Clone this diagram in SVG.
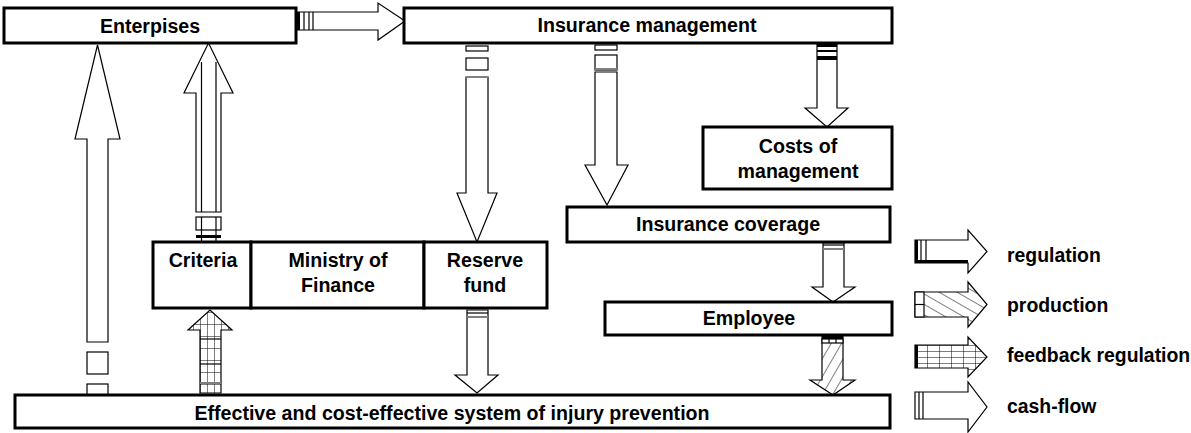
<svg xmlns="http://www.w3.org/2000/svg" width="1191" height="433" viewBox="0 0 1191 433">
<style>
.box{fill:#fff;stroke:#000;stroke-width:3}
.t{font-family:"Liberation Sans",Arial,sans-serif;font-size:19.6px;font-weight:bold;fill:#000;text-anchor:middle}
.lt{font-family:"Liberation Sans",Arial,sans-serif;font-size:19.4px;font-weight:bold;fill:#000}
.ar{fill:#fff;stroke:#000;stroke-width:1.2;stroke-linejoin:miter}
.ln{stroke:#000;stroke-width:1.2;fill:none}
.gl{stroke:#808080;stroke-width:2;fill:none}
.blk{fill:#000}
</style>
<defs>
<pattern id="hatch" patternUnits="userSpaceOnUse" width="9" height="9" patternTransform="rotate(30)">
<rect width="9" height="9" fill="#fff"/>
<line x1="0" y1="0" x2="0" y2="9" stroke="#000" stroke-width="1"/>
</pattern>
<pattern id="hatchL" patternUnits="userSpaceOnUse" width="9" height="9" patternTransform="rotate(-60)">
<rect width="9" height="9" fill="#fff"/>
<line x1="0" y1="0" x2="0" y2="9" stroke="#000" stroke-width="1"/>
</pattern>
<pattern id="grid" patternUnits="userSpaceOnUse" x="200" y="0" width="7" height="12">
<rect width="7" height="12" fill="#fff"/>
<path d="M0 0V12M0 0H7" stroke="#000" stroke-width="1" fill="none"/>
</pattern>
<pattern id="gridL" patternUnits="userSpaceOnUse" x="915" y="345" width="12" height="6">
<rect width="12" height="6" fill="#fff"/>
<path d="M0 0V6M0 0H12" stroke="#000" stroke-width="1" fill="none"/>
</pattern>
</defs>

<g id="connectors">
<g id="c-ent-ins">
<polygon class="ar" points="296,12 378,12 378,3 405,21 378,40 378,30 296,30"/>
<rect class="blk" x="297" y="12" width="3" height="18"/>
<line class="ln" x1="304" y1="12" x2="304" y2="30"/>
<line class="ln" x1="309" y1="12" x2="309" y2="30"/>
<line class="ln" x1="313" y1="12" x2="313" y2="30"/>
</g>
<g id="c-bot-ent">
<polygon class="ar" points="87,342 87,139 75,139 97.5,45 120,139 108,139 108,342"/>
<rect class="ar" x="87" y="352" width="21" height="22"/>
<rect class="ar" x="87" y="384" width="21" height="11"/>
</g>
<g id="c-cri-ent">
<polygon class="ar" points="196,212 196,93 184,93 208.5,43 233,93 221,93 221,212"/>
<line class="ln" x1="201.5" y1="62" x2="201.5" y2="212"/>
<line class="ln" x1="216" y1="62" x2="216" y2="212"/>
<rect class="ar" x="196" y="217" width="25" height="13"/>
<line class="ln" x1="201.5" y1="217" x2="201.5" y2="241"/>
<line class="ln" x1="216" y1="217" x2="216" y2="241"/>
<rect class="blk" x="196" y="235" width="25" height="3"/>
</g>
<g id="c-bot-cri">
<polygon points="200,393 200,330 188,330 210,310 232,330 221,330 221,393" fill="url(#grid)" stroke="#000" stroke-width="1.2"/>
<line class="ln" x1="200" y1="339" x2="221" y2="339" stroke-width="2"/>
<line class="ln" x1="200" y1="364" x2="221" y2="364" stroke-width="2"/>
<line class="gl" x1="200" y1="383" x2="221" y2="383"/>
</g>
<g id="c-ins-res">
<rect class="ar" x="466" y="46" width="22" height="5"/>
<rect class="ar" x="466" y="58" width="22" height="12"/>
<polygon class="ar" points="466,77 466,193 457,193 477,242 497,193 488,193 488,77"/>
<line class="gl" x1="466" y1="77" x2="488" y2="77"/>
</g>
<g id="c-res-bot">
<polygon class="ar" points="467,310 467,375 455,375 477,393 498,375 488,375 488,310"/>
<line class="ln" x1="467" y1="313" x2="488" y2="313"/>
<line class="gl" x1="467" y1="317" x2="488" y2="317"/>
</g>
<g id="c-ins-cov">
<rect class="ar" x="595" y="45" width="22" height="5"/>
<rect class="ar" x="595" y="55" width="22" height="15"/>
<line class="gl" x1="595" y1="69" x2="617" y2="69"/>
<polygon class="ar" points="595,72 595,165 585,165 607,205 628,165 617,165 617,72"/>
</g>
<g id="c-ins-cost">
<polygon class="ar" points="817,43 817,108 805,108 827,127 848,108 837,108 837,43"/>
<rect class="blk" x="817" y="44" width="20" height="3"/>
<rect class="blk" x="817" y="50" width="20" height="2"/>
<rect class="blk" x="817" y="56" width="20" height="4"/>
</g>
<g id="c-cov-emp">
<polygon class="ar" points="823,243 823,287 812,287 833,302 855,287 844,287 844,243"/>
<line class="ln" x1="823" y1="245" x2="844" y2="245"/>
<line class="gl" x1="823" y1="249" x2="844" y2="249"/>
</g>
<g id="c-emp-bot">
<polygon points="822,335 822,380 810,380 833,395 855,380 843,380 843,335" fill="url(#hatch)" stroke="#000" stroke-width="1.2"/>
<rect class="blk" x="822" y="336" width="21" height="3"/>
<rect class="ar" x="822" y="339" width="21" height="4"/>
<line class="ln" x1="829" y1="339" x2="829" y2="343"/>
<line class="ln" x1="836" y1="339" x2="836" y2="343"/>
</g>
</g>

<g id="n-enterprises">
<rect class="box" x="4" y="8" width="292" height="35"/>
<text class="t" x="150" y="33">Enterpises</text>
</g>
<g id="n-insurance-management">
<rect class="box" x="404" y="8" width="488" height="35"/>
<text class="t" x="647" y="32">Insurance management</text>
</g>
<g id="n-costs">
<rect class="box" x="703" y="127" width="189" height="62"/>
<text class="t" x="798" y="153">Costs of</text>
<text class="t" x="798" y="178">management</text>
</g>
<g id="n-coverage">
<rect class="box" x="567" y="207" width="323" height="35"/>
<text class="t" x="728" y="231">Insurance coverage</text>
</g>
<g id="n-criteria">
<rect class="box" x="153" y="242" width="98" height="66"/>
<text class="t" x="203" y="267">Criteria</text>
</g>
<g id="n-ministry">
<rect class="box" x="251" y="242" width="173" height="66"/>
<text class="t" x="338" y="267">Ministry of</text>
<text class="t" x="338" y="292">Finance</text>
</g>
<g id="n-reserve">
<rect class="box" x="424" y="242" width="123" height="66"/>
<text class="t" x="485" y="267">Reserve</text>
<text class="t" x="485" y="292">fund</text>
</g>
<g id="n-employee">
<rect class="box" x="605" y="302" width="287" height="33"/>
<text class="t" x="749" y="325">Employee</text>
</g>
<g id="n-prevention">
<rect class="box" x="15" y="395" width="875" height="33"/>
<text class="t" x="452" y="420">Effective and cost-effective system of injury prevention</text>
</g>

<g id="legend">
<g id="l-regulation">
<polygon class="ar" points="915,240 968,240 968,230 987,251.5 968,273 968,263 915,263"/>
<rect class="blk" x="915" y="240" width="3" height="23"/>
<line class="ln" x1="921" y1="240" x2="921" y2="263"/>
<line class="ln" x1="926" y1="240" x2="926" y2="263"/>
<rect class="blk" x="918" y="260" width="50" height="3"/>
<text class="lt" x="1007" y="262">regulation</text>
</g>
<g id="l-production">
<polygon points="915,292 968,292 968,282 987,304.5 968,327 968,317 915,317" fill="url(#hatchL)" stroke="#000" stroke-width="1.2"/>
<rect class="ar" x="915" y="292" width="9" height="25"/>
<line class="ln" x1="915" y1="304.5" x2="924" y2="304.5"/>
<text class="lt" x="1007" y="312">production</text>
</g>
<g id="l-feedback">
<polygon points="915,345 968,345 968,337 987,357 968,377 968,368 915,368" fill="url(#gridL)" stroke="#000" stroke-width="1.2"/>
<rect class="blk" x="915" y="345" width="3" height="23"/>
<text class="lt" x="1007" y="362">feedback regulation</text>
</g>
<g id="l-cashflow">
<polygon class="ar" points="915,392 968,392 968,382 987,407 968,432 968,419 915,419"/>
<line class="ln" x1="919" y1="392" x2="919" y2="419"/>
<line class="ln" x1="923" y1="392" x2="923" y2="419"/>
<text class="lt" x="1007" y="413">cash-flow</text>
</g>
</g>
</svg>
